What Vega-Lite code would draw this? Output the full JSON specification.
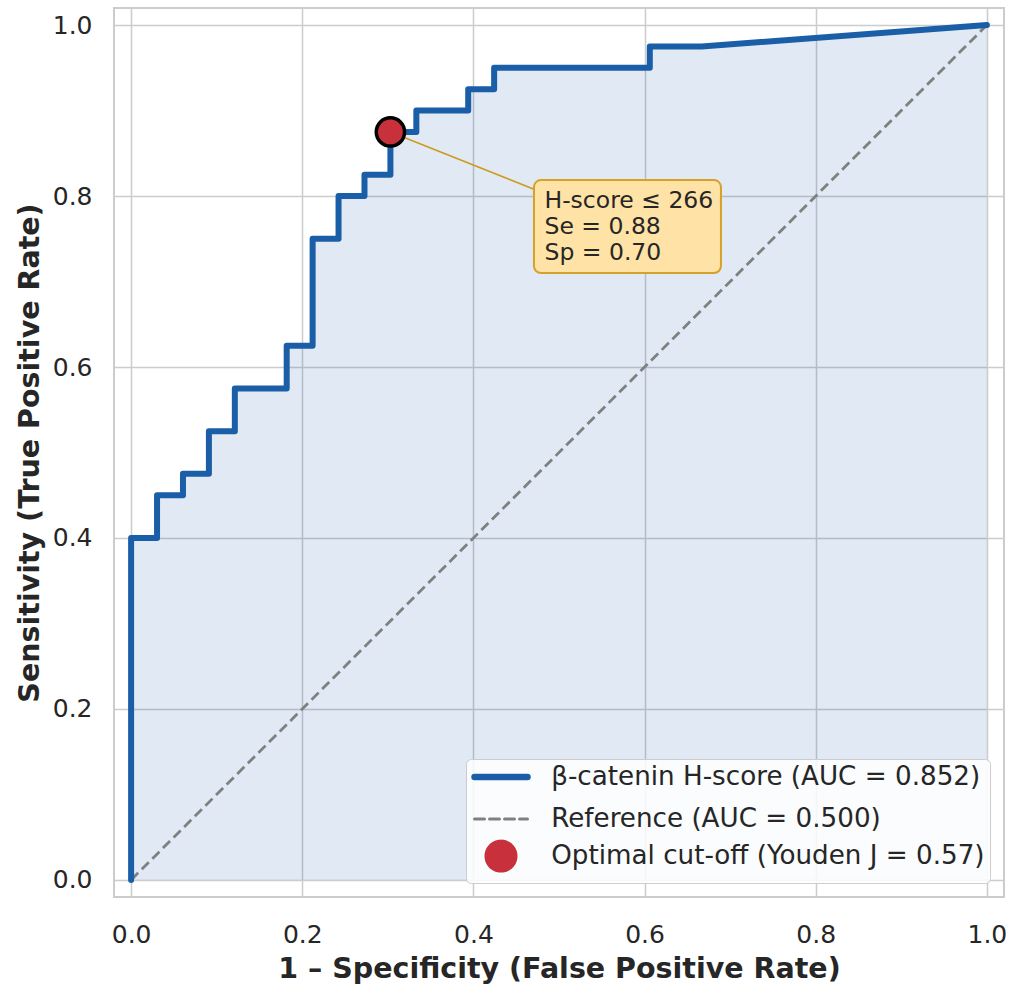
{
  "$schema": "https://vega.github.io/schema/vega-lite/v6.json",
  "width": 890,
  "height": 889,
  "autosize": {"type": "none"},
  "padding": {"left": 114, "top": 8, "right": 5, "bottom": 88},
  "background": "white",
  "config": {
    "font": "DejaVu Sans",
    "view": {"stroke": "#cccccc", "strokeWidth": 2},
    "axis": {
      "grid": true,
      "gridColor": "#cccccc",
      "gridWidth": 1.5,
      "ticks": false,
      "domain": false,
      "labelFontSize": 25,
      "labelColor": "#262626",
      "titleFontSize": 28.5,
      "titleFontWeight": "bold",
      "titleColor": "#262626"
    }
  },
  "datasets": {
    "roc": [
      {"i": 0, "fpr": 0.0, "tpr": 0.0},
      {"i": 1, "fpr": 0.0, "tpr": 0.4},
      {"i": 2, "fpr": 0.0303, "tpr": 0.4},
      {"i": 3, "fpr": 0.0303, "tpr": 0.45},
      {"i": 4, "fpr": 0.0606, "tpr": 0.45},
      {"i": 5, "fpr": 0.0606, "tpr": 0.475},
      {"i": 6, "fpr": 0.0909, "tpr": 0.475},
      {"i": 7, "fpr": 0.0909, "tpr": 0.525},
      {"i": 8, "fpr": 0.1212, "tpr": 0.525},
      {"i": 9, "fpr": 0.1212, "tpr": 0.575},
      {"i": 10, "fpr": 0.1818, "tpr": 0.575},
      {"i": 11, "fpr": 0.1818, "tpr": 0.625},
      {"i": 12, "fpr": 0.2121, "tpr": 0.625},
      {"i": 13, "fpr": 0.2121, "tpr": 0.75},
      {"i": 14, "fpr": 0.2424, "tpr": 0.75},
      {"i": 15, "fpr": 0.2424, "tpr": 0.8},
      {"i": 16, "fpr": 0.2727, "tpr": 0.8},
      {"i": 17, "fpr": 0.2727, "tpr": 0.825},
      {"i": 18, "fpr": 0.303, "tpr": 0.825},
      {"i": 19, "fpr": 0.303, "tpr": 0.875},
      {"i": 20, "fpr": 0.3333, "tpr": 0.875},
      {"i": 21, "fpr": 0.3333, "tpr": 0.9},
      {"i": 22, "fpr": 0.3939, "tpr": 0.9},
      {"i": 23, "fpr": 0.3939, "tpr": 0.925},
      {"i": 24, "fpr": 0.4242, "tpr": 0.925},
      {"i": 25, "fpr": 0.4242, "tpr": 0.95},
      {"i": 26, "fpr": 0.6061, "tpr": 0.95},
      {"i": 27, "fpr": 0.6061, "tpr": 0.975},
      {"i": 28, "fpr": 0.6667, "tpr": 0.975},
      {"i": 29, "fpr": 1.0, "tpr": 1.0}
    ],
    "ref": [
      {"i": 0, "fpr": 0.0, "tpr": 0.0},
      {"i": 1, "fpr": 1.0, "tpr": 1.0}
    ],
    "cut": [
      {"fpr": 0.303, "tpr": 0.875, "tx": 0.58, "ty": 0.7643, "label": "H-score ≤ 266\nSe = 0.88\nSp = 0.70"}
    ]
  },
  "layer": [
    {
      "data": {"name": "roc"},
      "mark": {"type": "area", "color": "#1b5ea8", "opacity": 0.13},
      "encoding": {
        "x": {"field": "fpr", "type": "quantitative",
          "scale": {"domain": [-0.02, 1.02], "nice": false, "zero": false},
          "axis": {"values": [0, 0.2, 0.4, 0.6, 0.8, 1.0], "format": ".1f", "labelPadding": 25, "title": "1 – Specificity (False Positive Rate)", "titlePadding": 7}},
        "y": {"field": "tpr", "type": "quantitative", "stack": null,
          "scale": {"domain": [-0.02, 1.02], "nice": false, "zero": false},
          "axis": {"values": [0, 0.2, 0.4, 0.6, 0.8, 1.0], "format": ".1f", "labelPadding": 22, "title": "Sensitivity (True Positive Rate)", "titlePadding": 8}}
      }
    },
    {
      "data": {"name": "ref"},
      "mark": {"type": "line", "stroke": "#808080", "strokeDash": [10, 5], "strokeWidth": 2.8},
      "encoding": {
        "x": {"field": "fpr", "type": "quantitative"},
        "y": {"field": "tpr", "type": "quantitative"},
        "order": {"field": "i", "type": "quantitative"}
      }
    },
    {
      "data": {"name": "roc"},
      "transform": [{"calculate": "'β-catenin H-score (AUC = 0.852)'", "as": "series"}],
      "mark": {"type": "line", "strokeWidth": 6, "strokeCap": "round", "strokeJoin": "round"},
      "encoding": {
        "x": {"field": "fpr", "type": "quantitative"},
        "y": {"field": "tpr", "type": "quantitative"},
        "order": {"field": "i", "type": "quantitative"},
        "color": {"field": "series", "type": "nominal",
          "scale": {"domain": ["β-catenin H-score (AUC = 0.852)", "Reference (AUC = 0.500)", "Optimal cut-off (Youden J = 0.57)"], "range": ["#1b5ea8", "#808080", "#c8303c"]},
          "legend": {
            "title": null,
            "orient": "bottom-right",
            "offset": 14,
            "padding": 5,
            "fillColor": "rgba(255,255,255,0.85)",
            "strokeColor": "#cccccc",
            "cornerRadius": 5,
            "labelFontSize": 26.2,
            "labelColor": "#262626",
            "labelOffset": 54,
            "labelLimit": 700,
            "labelExpr": "datum.label + ' '",
            "symbolSize": 2809,
            "symbolStrokeWidth": 6,
            "rowPadding": -6,
            "encode": {
              "symbols": {
                "update": {
                  "x": {"value": 30},
                  "shape": {"signal": "datum.value === 'Optimal cut-off (Youden J = 0.57)' ? 'circle' : 'M-1,0L1,0M0,-0.53M0,0.53'"},
                  "size": {"signal": "datum.value === 'Optimal cut-off (Youden J = 0.57)' ? 870 : 2809"},
                  "fill": {"signal": "datum.value === 'Optimal cut-off (Youden J = 0.57)' ? '#c8303c' : 'transparent'"},
                  "stroke": {"signal": "datum.value === 'Optimal cut-off (Youden J = 0.57)' ? '#000000' : (datum.value === 'Reference (AUC = 0.500)' ? '#808080' : '#1b5ea8')"},
                  "strokeWidth": {"signal": "datum.value === 'Optimal cut-off (Youden J = 0.57)' ? 3.5 : (datum.value === 'Reference (AUC = 0.500)' ? 3 : 6.5)"},
                  "strokeDash": {"signal": "datum.value === 'Reference (AUC = 0.500)' ? [10, 5] : [1, 0]"},
                  "strokeCap": {"value": "round"},
                  "opacity": {"value": 1}
                }
              }
            }
          }
        }
      }
    },
    {
      "data": {"name": "cut"},
      "mark": {"type": "rule", "color": "#cc9a1e", "strokeWidth": 1.6},
      "encoding": {
        "x": {"field": "fpr", "type": "quantitative"},
        "y": {"field": "tpr", "type": "quantitative"},
        "x2": {"field": "tx"},
        "y2": {"field": "ty"}
      }
    },
    {
      "data": {"name": "cut"},
      "mark": {"type": "rect", "width": 187, "height": 93, "fill": "#fee2a6", "stroke": "#d4a22a", "strokeWidth": 2, "cornerRadius": 7},
      "encoding": {
        "x": {"field": "tx", "type": "quantitative"},
        "y": {"field": "ty", "type": "quantitative"}
      }
    },
    {
      "data": {"name": "cut"},
      "mark": {"type": "text", "align": "left", "baseline": "middle", "dx": -83, "dy": -26, "fontSize": 23.5, "lineHeight": 26, "lineBreak": "\n", "color": "#262626"},
      "encoding": {
        "x": {"field": "tx", "type": "quantitative"},
        "y": {"field": "ty", "type": "quantitative"},
        "text": {"field": "label"}
      }
    },
    {
      "data": {"name": "cut"},
      "mark": {"type": "point", "filled": true, "fill": "#c8303c", "size": 800, "stroke": "#000000", "strokeWidth": 3.5, "opacity": 1},
      "encoding": {
        "x": {"field": "fpr", "type": "quantitative"},
        "y": {"field": "tpr", "type": "quantitative"}
      }
    }
  ]
}
